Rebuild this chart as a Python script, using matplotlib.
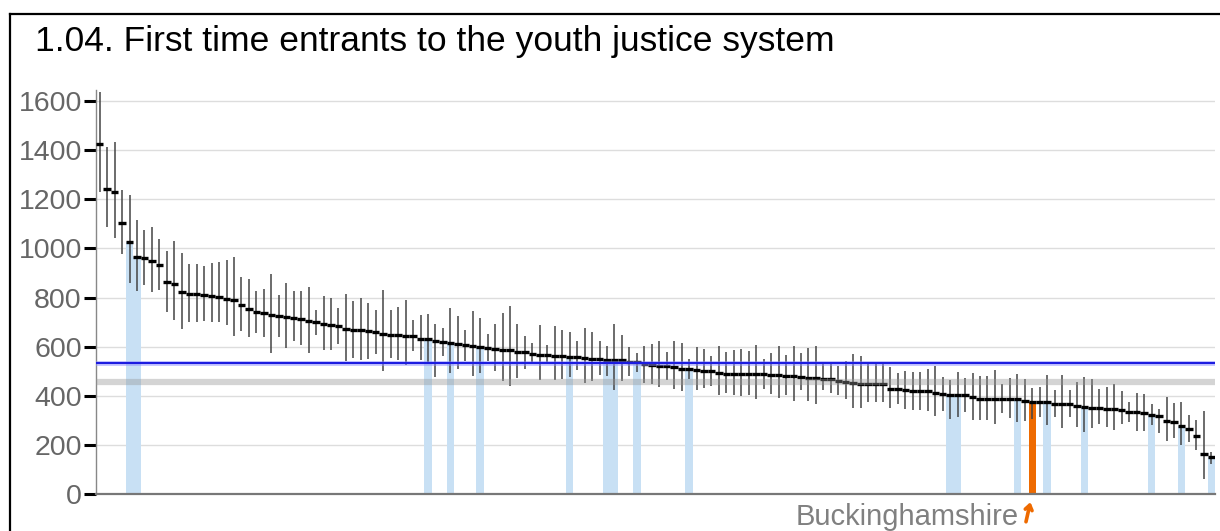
import matplotlib
matplotlib.use("Agg")
import matplotlib.pyplot as plt
import numpy as np
from matplotlib.lines import Line2D

plt.rcParams['font.family'] = ['Liberation Sans', 'DejaVu Sans']

# rate per 100,000 (sorted), one entry per local authority
values = [1425, 1242, 1231, 1104, 1025, 964, 960, 947, 933, 863,
          855, 821, 815, 813, 810, 806, 803, 794, 790, 771,
          752, 741, 738, 727, 725, 720, 716, 714, 704, 699,
          691, 688, 684, 670, 669, 666, 662, 658, 653, 649,
          646, 643, 642, 632, 630, 623, 617, 615, 612, 606,
          603, 597, 593, 591, 588, 586, 580, 577, 572, 566,
          565, 563, 561, 559, 556, 553, 551, 549, 547, 546,
          545, 539, 538, 531, 524, 523, 520, 518, 511, 508,
          506, 501, 499, 494, 490, 489, 488, 488, 487, 487,
          486, 484, 481, 479, 476, 474, 471, 470, 467, 462,
          457, 452, 448, 447, 446, 446, 429, 427, 422, 421,
          420, 418, 413, 406, 405, 403, 402, 394, 387, 386,
          386, 385, 385, 385, 378, 375, 374, 373, 368, 368,
          368, 359, 356, 351, 349, 345, 345, 344, 332, 332,
          331, 320, 318, 298, 294, 278, 263, 236, 161, 149]

upper = [1637, 1411, 1434, 1238, 1218, 1116, 1073, 1089, 1037, 991,
         1029, 981, 935, 935, 930, 940, 944, 951, 964, 883,
         876, 825, 836, 894, 811, 860, 825, 825, 842, 750,
         805, 799, 758, 813, 784, 799, 777, 748, 832, 748,
         761, 791, 707, 727, 734, 694, 677, 758, 723, 669,
         744, 718, 653, 691, 738, 764, 693, 645, 616, 689,
         608, 685, 666, 660, 622, 677, 658, 624, 604, 693,
         649, 599, 574, 603, 612, 623, 578, 623, 615, 551,
         599, 592, 562, 603, 578, 588, 592, 582, 608, 551,
         576, 603, 568, 603, 574, 596, 603, 532, 531, 520,
         542, 572, 562, 531, 531, 531, 517, 493, 501, 497,
         497, 511, 520, 477, 463, 497, 474, 494, 481, 481,
         504, 447, 472, 490, 470, 432, 436, 486, 423, 486,
         423, 456, 477, 467, 427, 436, 447, 419, 375, 412,
         406, 368, 348, 396, 371, 375, 321, 301, 339, 169]

lower = [1228, 1086, 1043, 978, 860, 826, 853, 822, 829, 743,
         707, 673, 700, 700, 704, 700, 700, 687, 645, 665,
         640, 655, 639, 576, 639, 596, 623, 605, 576, 646,
         585, 588, 612, 542, 554, 547, 551, 569, 501, 555,
         544, 524, 581, 547, 538, 477, 561, 493, 508, 540,
         481, 493, 542, 501, 459, 440, 473, 508, 528, 463,
         528, 463, 467, 477, 504, 452, 459, 485, 479, 425,
         459, 479, 497, 452, 446, 436, 463, 429, 420, 467,
         425, 432, 439, 402, 412, 402, 398, 402, 385, 428,
         409, 389, 405, 379, 423, 379, 366, 425, 412, 405,
         387, 351, 351, 375, 375, 375, 351, 368, 347, 344,
         344, 337, 318, 339, 307, 314, 334, 303, 301, 303,
         287, 328, 308, 294, 297, 307, 314, 280, 314, 267,
         314, 274, 253, 267, 287, 274, 260, 283, 294, 257,
         257, 280, 247, 217, 226, 199, 213, 179, 60, 121]

comparators = [4, 5, 44, 47, 51, 63, 68, 69, 72, 79, 114, 115,
               123, 127, 132, 141, 145, 149]
local_idx = 125
local_name = "Buckinghamshire"
england_value = 535
region_value = 455

title = "1.04. First time entrants to the youth justice system"

values = np.array(values)
upper = np.array(upper)
lower = np.array(lower)
n = len(values)
x = np.arange(n)

fig = plt.figure(figsize=(12.2, 5.31), dpi=100)
ax = fig.add_axes([96 / 1220, 37 / 531, 1119 / 1220, 404 / 531])

# highlighted comparators and local authority
ax.bar(np.array(comparators) + 0.5, values[comparators], width=1.0,
       color='#c8e0f4', zorder=1)
ax.bar(local_idx + 0.5, values[local_idx], width=1.0, color='#ee6a00', zorder=1)

# confidence intervals and point values
ax.vlines(x + 0.5, lower, upper, color='#444444', lw=1.1, zorder=2)
ax.hlines(values, x, x + 1, color='black', lw=2.4, zorder=3)

# reference lines
ax.axhline(region_value, color='#959595', alpha=0.4, lw=4.5, zorder=4)
ax.axhline(england_value, color='#8c8cff', alpha=0.5, lw=3.5, zorder=4)
ax.axhline(england_value, color='#1c1ce0', lw=1.5, zorder=5)

ax.set_xlim(0, n)
ax.set_ylim(0, 1645)
ax.set_yticks(range(0, 1601, 200))
ax.set_xticks([])
ax.yaxis.grid(True, color='#dddddd', lw=1)
ax.set_axisbelow(True)
ax.tick_params(axis='y', length=9, width=2.2, color='black',
               labelcolor='#666666', labelsize=20.5, pad=1.2)
for s in ['top', 'right']:
    ax.spines[s].set_visible(False)
ax.spines['left'].set_color('#888888')
ax.spines['left'].set_linewidth(1.0)
ax.spines['bottom'].set_color('#777777')
ax.spines['bottom'].set_linewidth(1.6)

# label for the local authority
ax.annotate('', xy=(local_idx + 0.5, 0), xytext=(-4.5, -20),
            textcoords='offset points', annotation_clip=False,
            arrowprops=dict(arrowstyle='->,head_length=0.35,head_width=0.25',
                            color='#ee6a00', lw=2.6, shrinkA=0, shrinkB=6))
ax.annotate(local_name, xy=(local_idx + 0.5, 0), xytext=(-9.5, -22.5),
            textcoords='offset points', ha='right', va='baseline',
            color='#808080', fontsize=21, annotation_clip=False)

# title and frame
fig.text(35 / 1220, 1 - 51 / 531, title, fontsize=25.5, color='black',
         va='baseline', ha='left')
fig.add_artist(Line2D([10 / 1220, 1], [1 - 14 / 531] * 2,
                      transform=fig.transFigure, color='black', lw=1.6))
fig.add_artist(Line2D([10 / 1220] * 2, [0, 1 - 14 / 531],
                      transform=fig.transFigure, color='black', lw=1.6))

fig.savefig('out.png', dpi=100)
